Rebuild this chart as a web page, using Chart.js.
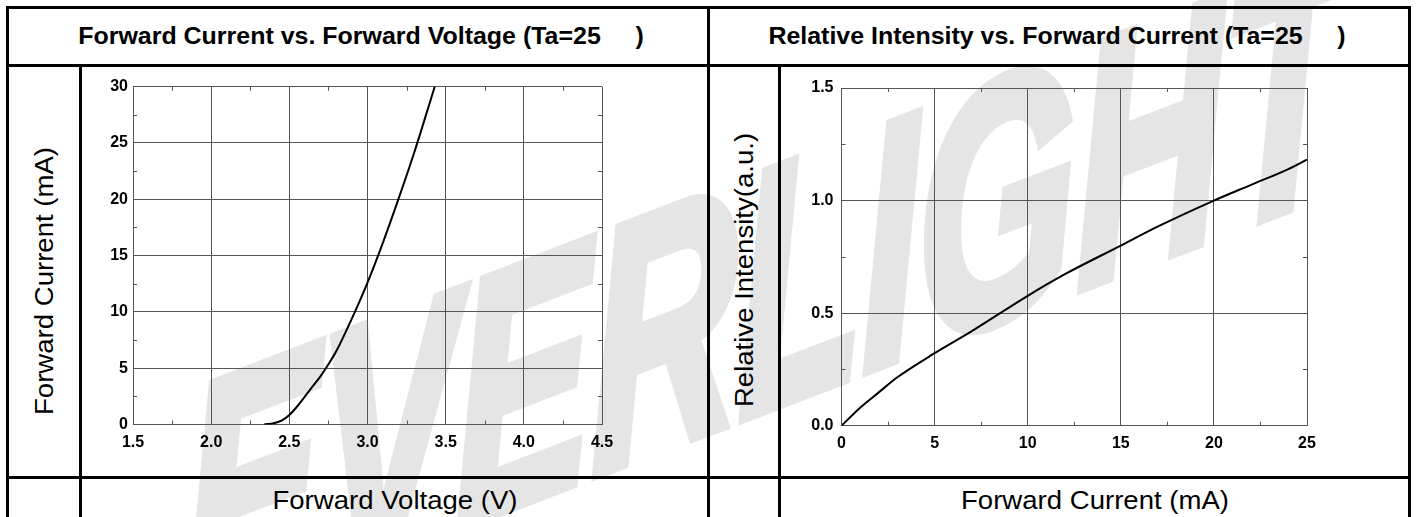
<!DOCTYPE html>
<html>
<head>
<meta charset="utf-8">
<script src="https://cdn.jsdelivr.net/npm/chart.js@4.4.1/dist/chart.umd.min.js"></script>
<style>
  body { margin: 0; background: #fff; }
  #page { position: relative; width: 1416px; height: 517px; overflow: hidden; font-family: Arial, "Liberation Sans", sans-serif; }
  .ln { position: absolute; background: #000; }
  .txt { position: absolute; white-space: nowrap; color: #000; line-height: 1; }
  .title { font-weight: bold; font-size: 24px; transform: translate(-50%, -50%) scaleX(1.04); }
  .axt { font-size: 26px; transform: translate(-50%, -50%) scaleX(1.06); }
  .axty { font-size: 26px; transform: translate(-50%, -50%) rotate(-90deg) scaleX(1.06); }
  #wm { position: absolute; left: 765px; top: 290px; font-size: 320px; font-weight: bold; font-style: italic;
        color: #e5e5e5; -webkit-text-stroke: 12px #e5e5e5; white-space: nowrap; line-height: 1;
        transform: translate(-50%, -50%) rotate(-21deg) skewX(-20deg) scaleX(0.68); }
  .cell { position: absolute; }
</style>
</head>
<body>
<div id="page">
  <div id="wm">EVERLIGHT</div>

  <!-- table lines -->
  <div class="ln" style="left:6px;top:6px;width:1405px;height:3px"></div>
  <div class="ln" style="left:6px;top:64px;width:1405px;height:3px"></div>
  <div class="ln" style="left:6px;top:476px;width:1405px;height:3px"></div>
  <div class="ln" style="left:6px;top:6px;width:3px;height:511px"></div>
  <div class="ln" style="left:79px;top:64px;width:3px;height:453px"></div>
  <div class="ln" style="left:707px;top:6px;width:3px;height:511px"></div>
  <div class="ln" style="left:778px;top:64px;width:3px;height:453px"></div>
  <div class="ln" style="left:1408px;top:6px;width:3px;height:511px"></div>

  <div class="txt title" style="left:361px;top:36px">Forward Current vs. Forward Voltage (Ta=25&nbsp;&nbsp;&nbsp;&nbsp; )</div>
  <div class="txt title" style="left:1057px;top:36px">Relative Intensity vs. Forward Current (Ta=25&nbsp;&nbsp;&nbsp;&nbsp; )</div>
  <div class="txt axty" style="left:44px;top:281px">Forward Current (mA)</div>
  <div class="txt axty" style="left:744px;top:270px">Relative Intensity(a.u.)</div>
  <div class="txt axt" style="left:395px;top:500px">Forward Voltage (V)</div>
  <div class="txt axt" style="left:1095px;top:500px">Forward Current (mA)</div>

  <div class="cell" style="left:82px;top:67px"><canvas id="vfChart" width="625" height="409"></canvas></div>
  <div class="cell" style="left:781px;top:67px"><canvas id="riChart" width="627" height="409"></canvas></div>
</div>

<script>
// Forward current vs forward voltage
const vfVoltage = [2.34, 2.40, 2.45, 2.50, 2.55, 2.60, 2.65, 2.70, 2.75, 2.80, 2.90, 3.00, 3.10, 3.20, 3.30, 3.43];
const vfCurrent = [0.03, 0.12, 0.35, 0.85, 1.6, 2.5, 3.4, 4.3, 5.35, 6.5, 9.4, 12.6, 16.2, 20.1, 24.2, 30];
const vfRangeX = [1.5, 4.5, 0.5];
const vfRangeY = [0, 30, 5];

// Relative intensity vs forward current
const riCurrent = [0, 1, 2, 3, 5, 7, 10, 12, 15, 17, 20, 22, 24, 25];
const riIntensity = [0, 0.08, 0.148, 0.215, 0.322, 0.42, 0.577, 0.673, 0.80, 0.885, 1.0, 1.07, 1.14, 1.182];
const riRangeX = [0, 25, 5];
const riRangeY = [0, 1.5, 0.5];

const FONT = 'Arial, "Liberation Sans", sans-serif';
const GRID = '#555';

// short inner tick marks half way between the major grid lines
const minorTicks = {
  id: 'minorTicks',
  afterDatasetsDraw(chart) {
    const { ctx, chartArea: a, scales } = chart;
    ctx.save();
    ctx.strokeStyle = GRID;
    ctx.lineWidth = 1;
    ctx.beginPath();
    ['x', 'y'].forEach(id => {
      const sc = scales[id];
      const t = sc.ticks;
      for (let i = 0; i < t.length - 1; i++) {
        const p = Math.round(sc.getPixelForValue((t[i].value + t[i + 1].value) / 2)) + 0.5;
        if (id === 'x') {
          ctx.moveTo(p, a.bottom); ctx.lineTo(p, a.bottom - 4);
          ctx.moveTo(p, a.top); ctx.lineTo(p, a.top + 4);
        } else {
          ctx.moveTo(a.left, p); ctx.lineTo(a.left + 4, p);
          ctx.moveTo(a.right, p); ctx.lineTo(a.right - 4, p);
        }
      }
    });
    ctx.stroke();
    ctx.restore();
  }
};

function makeChart(id, xs, ys, rx, ry, fmtX, fmtY, box) {
  return new Chart(document.getElementById(id), {
    type: 'line',
    data: {
      datasets: [{
        data: xs.map((v, i) => ({ x: v, y: ys[i] })),
        borderColor: '#000',
        borderWidth: 2,
        pointRadius: 0,
        cubicInterpolationMode: 'monotone',
        fill: false
      }]
    },
    options: {
      responsive: false,
      animation: false,
      events: [],
      layout: { padding: { left: 0, right: box.right, top: box.top, bottom: 0 } },
      plugins: { legend: { display: false }, tooltip: { enabled: false } },
      scales: {
        x: {
          type: 'linear',
          min: rx[0], max: rx[1],
          ticks: { stepSize: rx[2], color: '#000', padding: 8, font: { family: FONT, size: 16, weight: 'bold' }, callback: fmtX, maxRotation: 0 },
          grid: { color: GRID, drawTicks: false },
          border: { color: GRID },
          afterFit: s => { s.height = box.xh; }
        },
        y: {
          min: ry[0], max: ry[1],
          ticks: { stepSize: ry[2], color: '#000', padding: box.yp, font: { family: FONT, size: 16, weight: 'bold' }, callback: fmtY },
          grid: { color: GRID, drawTicks: false },
          border: { color: GRID },
          afterFit: s => { s.width = box.yw; }
        }
      }
    },
    plugins: [minorTicks]
  });
}

makeChart('vfChart', vfVoltage, vfCurrent, vfRangeX, vfRangeY,
  v => v.toFixed(1), v => String(v),
  { yw: 51, xh: 51.5, top: 19.7, right: 105, yp: 5 });

makeChart('riChart', riCurrent, riIntensity, riRangeX, riRangeY,
  v => String(v), v => v.toFixed(1),
  { yw: 60.5, xh: 50.3, top: 21, right: 101, yp: 8 });
</script>
</body>
</html>
